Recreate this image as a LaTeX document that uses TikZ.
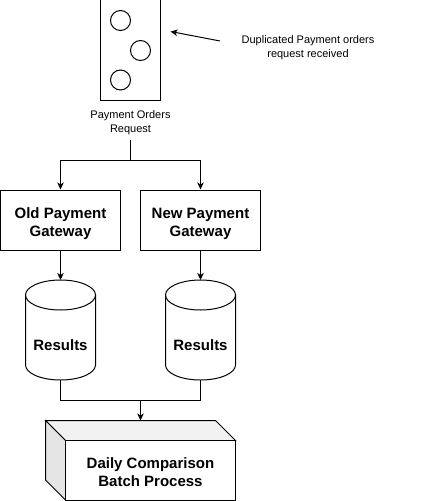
\documentclass[tikz,border=0pt]{standalone}
\usepackage{fontspec}
\setmainfont{Liberation Sans}
\usetikzlibrary{arrows.meta}
\begin{document}
\begin{tikzpicture}[x=1pt,y=-1pt,line width=1pt,
  arr/.style={-{Stealth[length=7pt,width=6.5pt,inset=2pt]}},
  small/.style={font=\fontsize{11}{13.5}\selectfont,align=center,inner sep=0pt},
  big/.style={font=\fontsize{15}{18}\selectfont\bfseries,align=center,inner sep=0pt},
  gbox/.style={draw,minimum width=120pt,minimum height=60pt,inner sep=0pt},
  dot/.style={draw,circle,minimum size=20pt,inner sep=0pt},
  ghost/.style={inner sep=0pt,outer sep=0pt}]
\useasboundingbox[fill=white] (0,0) rectangle (421,501);
% top request box with circles
\node[draw,minimum width=60pt,minimum height=110pt,inner sep=0pt] (req) at (130.5,45) {};
\node[dot] (c1) at (120.5,20.5) {};
\node[dot] (c2) at (140.5,50.5) {};
\node[dot] (c3) at (120.5,80) {};
\node[small] (reql) at (130.5,122.5) {Payment Orders\\Request};
\node[small] (dup) at (308,47.5) {Duplicated Payment orders\\request received};
\coordinate (dupstart) at (220,41);
\coordinate (duptip) at (170.5,31.5);
\draw[arr] (dupstart) -- (duptip);
% gateways
\node[gbox] (old) at (60.5,220) {};
\node[big] (oldt) at (60.5,223.5) {Old Payment\\Gateway};
\node[gbox] (new) at (200.5,220) {};
\node[big] (newt) at (200.5,223.5) {New Payment\\Gateway};
\coordinate (split) at (130.5,160.5);
\coordinate (reqbot) at (130.5,140);
\draw (reqbot) -- (split);
\draw[arr] (split) -| (old.north);
\draw[arr] (split) -| (new.north);
% cylinders
\foreach \cx/\nm in {60.5/res1,200.5/res2}{
  \draw[fill=white] (\cx-35,295) -- (\cx-35,365)
     arc[start angle=180,end angle=360,x radius=35pt,y radius=15pt]
     -- (\cx+35,295)
     arc[start angle=0,end angle=180,x radius=35pt,y radius=15pt] -- cycle;
  \draw (\cx-35,295) arc[start angle=180,end angle=360,x radius=35pt,y radius=15pt];
  \node[ghost,minimum width=70pt,minimum height=100pt] (\nm) at (\cx,330) {};
  \node[big] (\nm t) at (\cx,345.5) {Results};
}
\draw[arr] (old.south) -- (res1.north);
\draw[arr] (new.south) -- (res2.north);
% cube
\draw[fill=black!5] (45.5,420.5) -- (215.5,420.5) -- (235.5,440.5) -- (65.5,440.5) -- cycle;
\draw[fill=black!10] (45.5,420.5) -- (65.5,440.5) -- (65.5,500) -- (45.5,480) -- cycle;
\draw[fill=white] (65.5,440.5) rectangle (235.5,500);
\node[ghost,minimum width=190pt,minimum height=80pt] (cube) at (140.5,460.5) {};
\node[big] (cubet) at (150.5,472) {Daily Comparison\\Batch Process};
\coordinate (merge) at (140.5,400.5);
\draw (res1.south) |- (merge);
\draw (res2.south) |- (merge);
\draw[arr] (merge) -- (cube.north);
\end{tikzpicture}
\end{document}
